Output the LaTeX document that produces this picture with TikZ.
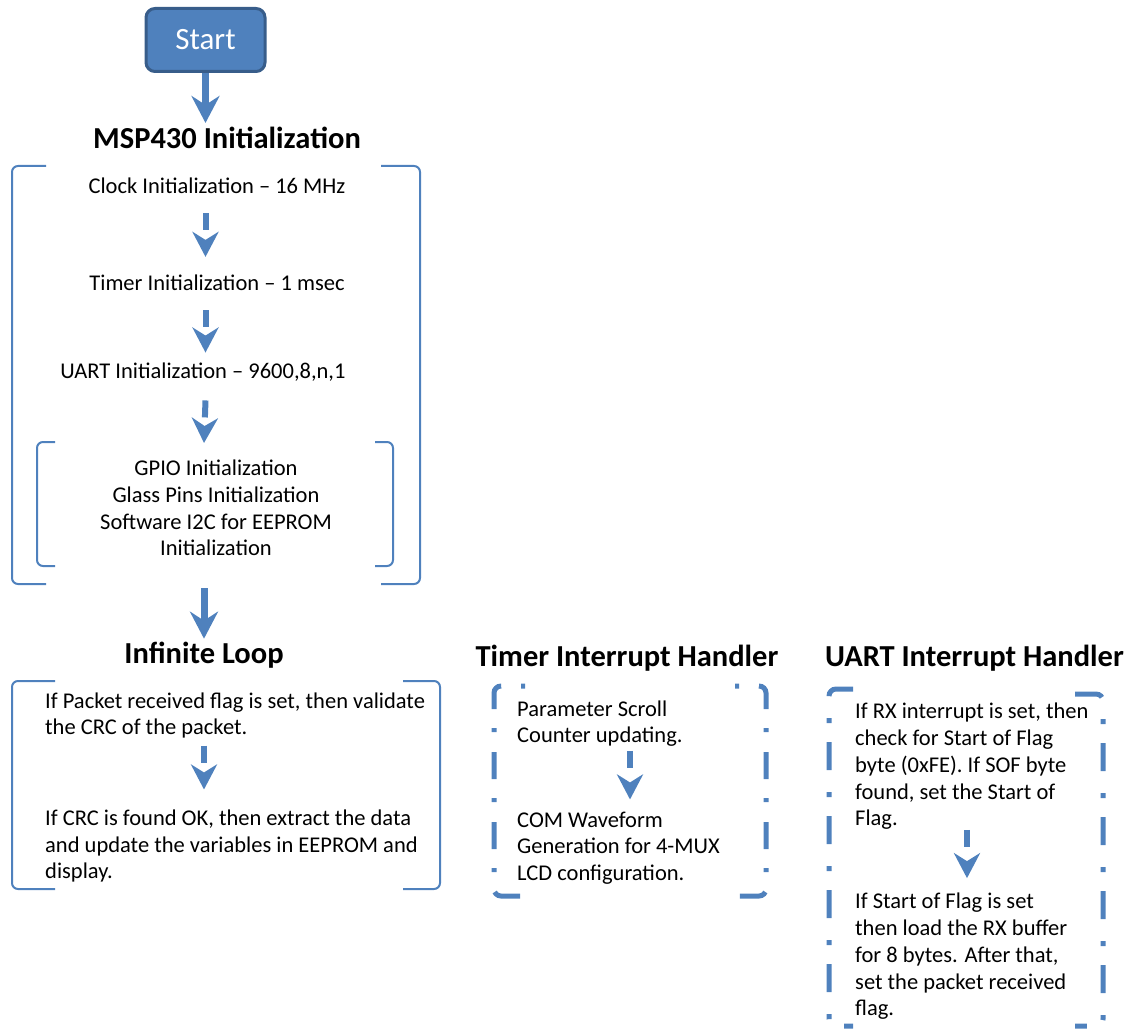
\documentclass[tikz,border=0pt]{standalone}
\usepackage{fontspec}
\setmainfont{Carlito}
\usetikzlibrary{arrows.meta}
\definecolor{accent}{HTML}{4F81BD}
\definecolor{accentdark}{HTML}{385D8A}
\begin{document}
\begin{tikzpicture}[x=1pt,y=-1pt,
 body/.style={font=\fontsize{22.5}{26.7}\selectfont, inner sep=0pt, align=center},
 bodyl/.style={font=\fontsize{22.5}{26.7}\selectfont, inner sep=0pt, align=left, anchor=west},
 head/.style={font=\fontsize{30.5}{34}\selectfont\bfseries, inner sep=0pt},
 bracket/.style={draw=accent, line width=2pt, rounded corners=6pt},
 solidarrow/.style={draw=accent, line width=7pt, -{Stealth[length=27pt,width=28pt,inset=9pt]}},
 dasharrow/.style={draw=accent, line width=6pt, dash pattern=on 17pt off 30pt, -{Stealth[length=25pt,width=26pt,inset=8pt]}},
 dashbracket/.style={draw=accent, line width=5pt, rounded corners=7pt},
]
\useasboundingbox (0,0) rectangle (1130,1032);

% Start
\node[draw=accentdark, fill=accent, line width=3pt, rounded corners=9pt,
      minimum width=119pt, minimum height=63pt, text=white,
      font=\fontsize{31}{34}\selectfont] (start) at (205.5,40) {Start};

% MSP430 initialization
\node[head] (msp) at (227,138) {MSP430 Initialization};
\node[body] (clock) at (217,186) {Clock Initialization – 16 MHz};
\node[body] (timerinit) at (217,283) {Timer Initialization – 1 msec};
\node[body] (uart) at (203,372) {UART Initialization – 9600,8,n,1};
\node[body] (gpio) at (216,508) {GPIO Initialization\\Glass Pins Initialization\\Software I2C for EEPROM\\Initialization};

\draw[bracket] (46,166) -- (12,166) -- (12,584) -- (46,584);
\draw[bracket] (381,166) -- (420,166) -- (420,584) -- (381,584);
\draw[bracket] (55,442) -- (37,442) -- (37,566) -- (55,566);
\draw[bracket] (375,442) -- (393,442) -- (393,566) -- (375,566);
\coordinate (initbottom) at (204,588);
\coordinate (gpiotop) at (204,443);

% Infinite loop
\node[head] (loop) at (204,655) {Infinite Loop};
\node[bodyl] (loop1) at (45,715.5) {If Packet received flag is set, then validate\\the CRC of the packet.};
\node[bodyl] (loop2) at (45,846) {If CRC is found OK, then extract the data\\and update the variables in EEPROM and\\display.};
\draw[bracket] (55,681) -- (12,681) -- (12,889) -- (55,889);
\draw[bracket] (403,681) -- (440,681) -- (440,889) -- (403,889);

% Timer interrupt
\node[head] (tih) at (627,658) {Timer Interrupt Handler};
\node[bodyl] (tim1) at (517,723.5) {Parameter Scroll\\Counter updating.};
\node[bodyl] (tim2) at (517,848) {COM Waveform\\Generation for 4-MUX\\LCD configuration.};
\draw[dashbracket, dash pattern=on 4pt off 20pt on 27pt off 19pt] (525,686) -- (494,686) -- (494,896) -- (525,896);
\draw[dashbracket, dash pattern=on 4pt off 20pt on 27pt off 19pt] (735,686) -- (766,686) -- (766,896) -- (735,896);

% UART interrupt
\node[head] (uih) at (974.5,658) {UART Interrupt Handler};
\node[bodyl] (ua1) at (855,766.5) {If RX interrupt is set, then\\check for Start of Flag\\byte (0xFE). If SOF byte\\found, set the Start of\\Flag.};
\node[bodyl] (ua2) at (855,956.5) {If Start of Flag is set\\then load the RX buffer\\for 8 bytes. After that,\\set the packet received\\flag.};
\draw[dashbracket, dash pattern=on 28pt off 22pt on 5pt off 19pt] (853,689) -- (829,689) -- (829,1026) -- (853,1026);
\draw[dashbracket, dash pattern=on 28pt off 22pt on 5pt off 19pt] (1075,694) -- (1103,694) -- (1103,1026) -- (1075,1026);

% arrows
\draw[solidarrow] (start.south) -- ([yshift=4pt]msp.north -| start.south);
\draw[dasharrow] ([yshift=-19pt]clock.south -| start.south) -- ([yshift=18pt]timerinit.north -| start.south);
\draw[dasharrow] ([yshift=-19pt]timerinit.south -| start.south) -- ([yshift=10pt]uart.north -| start.south);
\draw[dasharrow] ([yshift=-19pt]uart.south -| start.south) -- (gpiotop);
\draw[solidarrow] (initbottom) -- ([yshift=3pt]loop.north);
\draw[dasharrow] ([yshift=-7pt]loop1.south -| loop.south) -- ([yshift=20pt]loop2.north -| loop.south);
\draw[dasharrow] ([yshift=-4pt]tim1.south -| 630,0) -- ([yshift=12pt]tim2.north -| 630,0);
\draw[dasharrow] ([yshift=0pt]ua1.south -| 967,0) -- ([yshift=15pt]ua2.north -| 967,0);
\end{tikzpicture}
\end{document}
